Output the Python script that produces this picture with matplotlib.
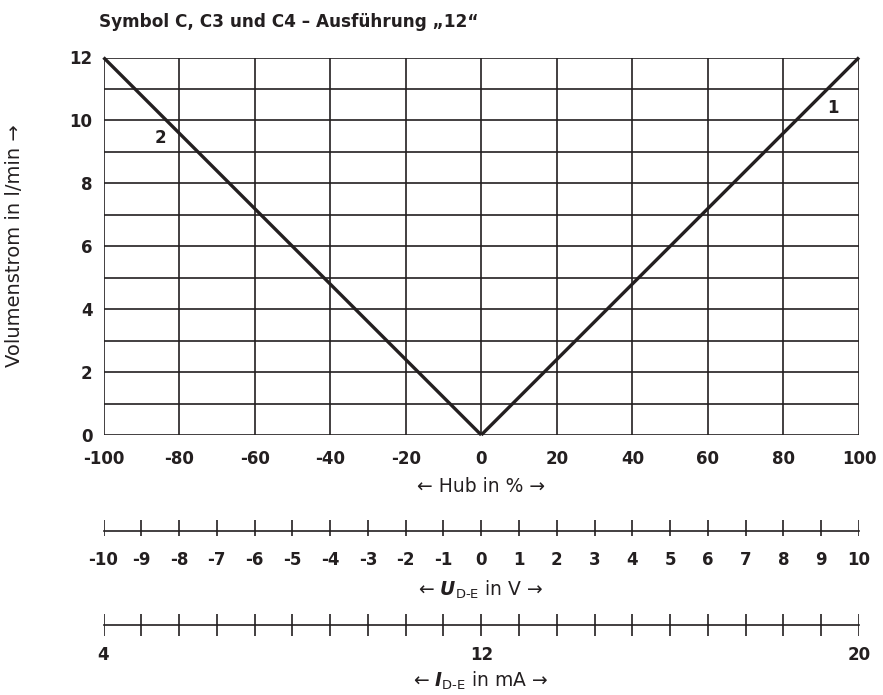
import numpy as np
import matplotlib as mpl
mpl.use('Agg')
import matplotlib.pyplot as plt

plt.rcParams['font.family'] = ['DejaVu Sans']
plt.rcParams['mathtext.fontset'] = 'custom'
plt.rcParams['mathtext.rm'] = 'DejaVu Sans'
plt.rcParams['mathtext.it'] = 'DejaVu Sans:italic'
plt.rcParams['mathtext.bf'] = 'DejaVu Sans:bold'
plt.rcParams['mathtext.bfit'] = 'DejaVu Sans:bold:italic'

ink = '#231f20'

# characteristic curves: stroke (%) vs flow (l/min)
hub_1 = [0, 100]
flow_1 = [0, 12]
hub_2 = [0, -100]
flow_2 = [0, 12]

hub_ticks = [-100, -80, -60, -40, -20, 0, 20, 40, 60, 80, 100]
flow_ticks = [0, 2, 4, 6, 8, 10, 12]
flow_grid = np.arange(0, 13, 1)

# command value scales
u_ticks = list(range(-10, 11))
i_ticks = [4 + 0.8 * k for k in range(21)]
i_labels = [4, 12, 20]

fig = plt.figure(figsize=(8.83, 6.95), dpi=100)
W, H = 883, 695
left, right = 103.5 / W, 859 / W
ax = fig.add_axes([left, 1 - 435 / H, right - left, (435 - 57.5) / H])

ax.set_xlim(-100, 100)
ax.set_ylim(0, 12)
for y in flow_grid:
    ax.axhline(y, color=ink, lw=1.2, zorder=1)
for x in hub_ticks:
    ax.axvline(x, color=ink, lw=1.2, zorder=1)
for s in ax.spines.values():
    s.set_visible(False)

ax.plot(hub_1, flow_1, color=ink, lw=2.4, solid_capstyle='butt', zorder=3, clip_on=False)
ax.plot(hub_2, flow_2, color=ink, lw=2.4, solid_capstyle='butt', zorder=3, clip_on=False)
ax.text(93, 10.4, '1', fontsize=12, fontweight='bold', color=ink, ha='center', va='center')
ax.text(-85, 9.45, '2', fontsize=12, fontweight='bold', color=ink, ha='center', va='center')

ax.set_xticks(hub_ticks)
ax.set_xticklabels([str(t) for t in hub_ticks], fontsize=12, fontweight='bold', color=ink)
ax.set_yticks(flow_ticks)
ax.set_yticklabels([str(t) for t in flow_ticks], fontsize=12, fontweight='bold', color=ink)
ax.tick_params(axis='x', length=0, pad=11)
ax.tick_params(axis='y', length=0, pad=8)

fig.text(99 / W, 1 - 22 / H, 'Symbol C, C3 und C4 – Ausführung „12“', fontsize=12.2,
         fontweight='bold', color=ink, ha='left', va='center')
fig.text(15 / W, 1 - 246 / H, 'Volumenstrom in l/min →', fontsize=14, color=ink,
         rotation=90, ha='center', va='center')
fig.text(481 / W, 1 - 487 / H, '← Hub in % →', fontsize=13.5, color=ink,
         ha='center', va='center')


def scale_axis(y_top, y_bot, y_line, pos, labels, label_pos, label_gap):
    sa = fig.add_axes([left, 1 - y_bot / H, right - left, (y_bot - y_top) / H])
    sa.set_xlim(-100, 100)
    sa.set_ylim(y_bot, y_top)
    sa.axis('off')
    sa.plot([-100, 100], [y_line, y_line], color=ink, lw=1.2, clip_on=False)
    sa.vlines(pos, y_top, y_bot, color=ink, lw=1.2)
    for p, lab in zip(label_pos, labels):
        sa.text(p, y_bot + label_gap, lab, fontsize=12, fontweight='bold', color=ink,
                ha='center', va='top')
    return sa


u_pos = [u * 10 for u in u_ticks]
scale_axis(520, 536, 531, u_pos, [str(u) for u in u_ticks], u_pos, 15)
i_pos = [(i - 12) * 12.5 for i in i_ticks]
scale_axis(614, 636, 625, i_pos, [str(i) for i in i_labels],
           [(i - 12) * 12.5 for i in i_labels], 10)

fig.text(481 / W, 1 - 590 / H, r'← $\mathbfit{U}_{\mathrm{D\text{-}E}}$ in V →', fontsize=13.5,
         color=ink, ha='center', va='center')
fig.text(481 / W, 1 - 681 / H, r'← $\mathbfit{I}_{\mathrm{D\text{-}E}}$ in mA →', fontsize=13.5,
         color=ink, ha='center', va='center')

fig.savefig('out.png', dpi=100)
